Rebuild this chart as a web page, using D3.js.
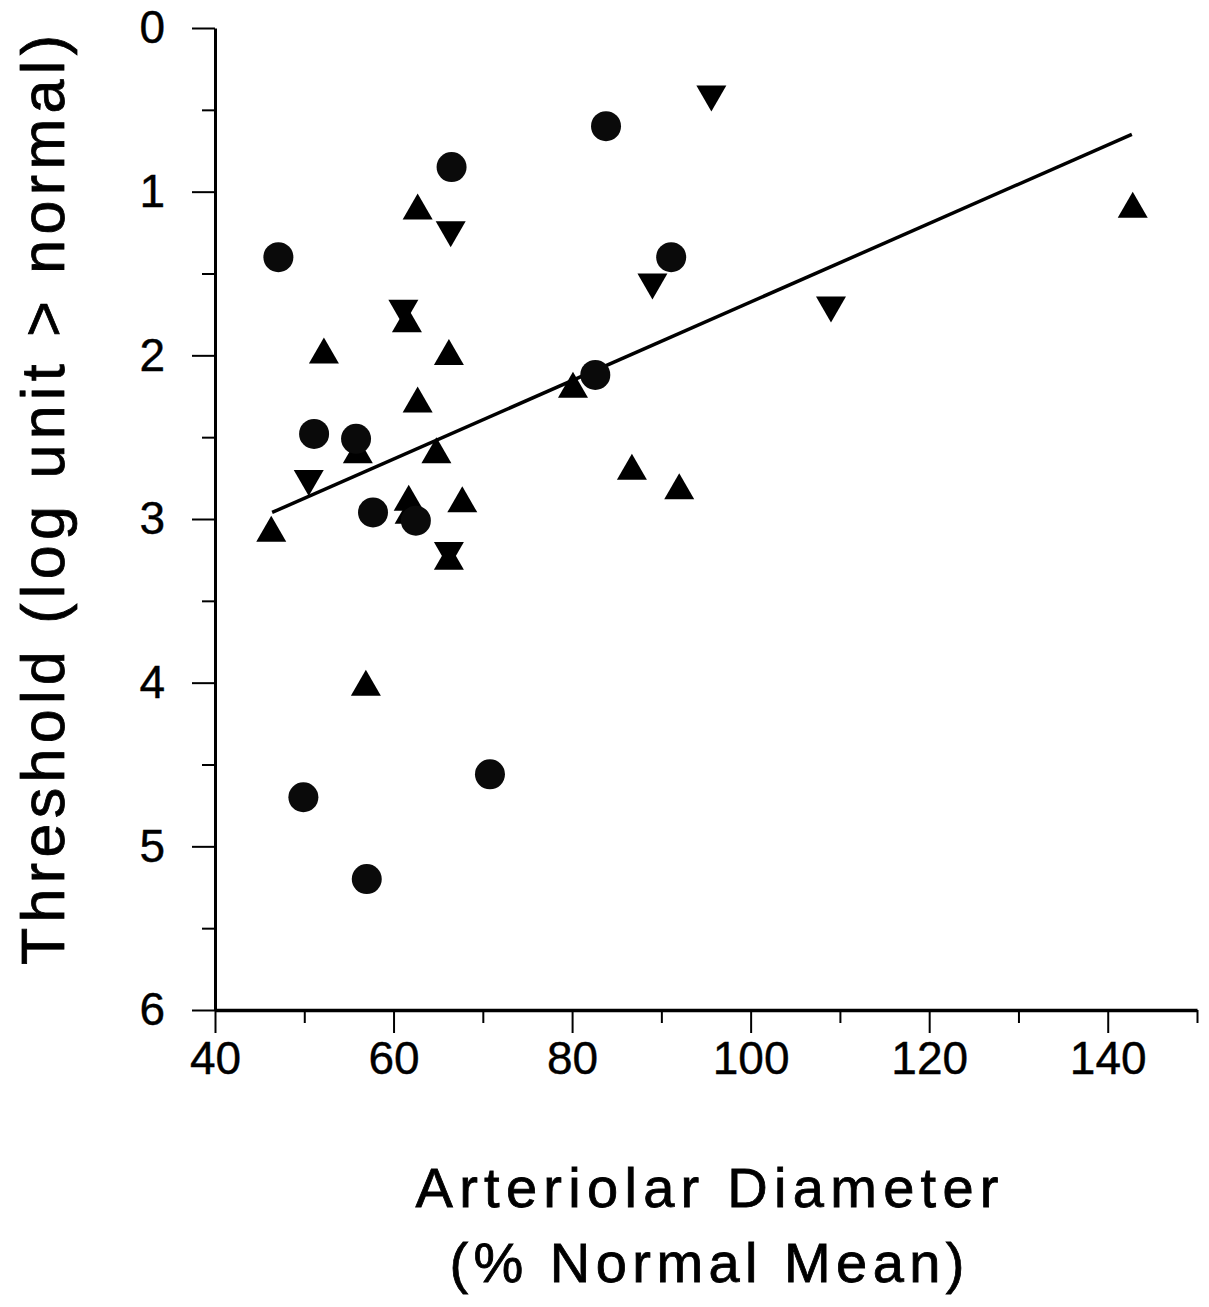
<!DOCTYPE html>
<html>
<head>
<meta charset="utf-8">
<script src="https://cdn.jsdelivr.net/npm/d3@7"></script>
<style>
  body { margin: 0; background: #fff; }
  text { font-family: "Liberation Sans", Arial, Helvetica, sans-serif; fill: #000; }
</style>
</head>
<body>
<svg id="chart" width="1209" height="1307"></svg>
<script>
// Filled circles
const circleX = [47.1, 66.5, 83.8, 91.1, 82.6, 51.1, 55.8, 57.7, 62.5, 70.8, 49.9, 57.0];
const circleY = [1.40, 0.85, 0.60, 1.40, 2.12, 2.48, 2.51, 2.96, 3.01, 4.56, 4.70, 5.20];

// Upward triangles
const upX = [62.7, 52.2, 66.2, 61.5, 80.1, 62.7, 56.0, 64.8, 46.3, 61.7, 61.8, 67.7, 86.7, 92.0, 66.2, 56.9, 142.8];
const upY = [1.09, 1.97, 1.98, 1.78, 2.18, 2.27, 2.58, 2.58, 3.06, 2.87, 2.95, 2.88, 2.68, 2.80, 3.23, 4.00, 1.08];

// Downward triangles
const downX = [95.6, 66.4, 89.0, 109.0, 61.1, 50.5, 66.2];
const downY = [0.43, 1.26, 1.58, 1.72, 1.74, 2.78, 3.22];

// Regression line end points
const fitX = [46.4, 142.7];
const fitY = [2.96, 0.65];

const xMajor = [40, 60, 80, 100, 120, 140];
const xMinor = [50, 70, 90, 110, 130, 150];
const yMajor = [0, 1, 2, 3, 4, 5, 6];
const yMinor = [0.5, 1.5, 2.5, 3.5, 4.5, 5.5];

let svg = d3.select("#chart");

let x = d3.scaleLinear().domain([40, 150]).range([215, 1197]);
let y = d3.scaleLinear().domain([0, 6]).range([28, 1010]);

// ejes: menores primero, luego mayores con etiquetas
svg.append("g")
    .attr("transform", "translate(0,1010)")
    .call(d3.axisBottom(x).tickValues(xMinor).tickSize(13).tickSizeOuter(0).tickFormat(""))
    .call(g => g.select(".domain").remove());

let xAxis = svg.append("g")
    .attr("transform", "translate(0,1010)")
    .call(d3.axisBottom(x).tickValues(xMajor).tickSize(23).tickSizeOuter(0).tickPadding(8).tickFormat(d3.format("d")));

svg.append("g")
    .attr("transform", "translate(215,0)")
    .call(d3.axisLeft(y).tickValues(yMinor).tickSize(13).tickSizeOuter(0).tickFormat(""))
    .call(g => g.select(".domain").remove());

let yAxis = svg.append("g")
    .attr("transform", "translate(215,0)")
    .call(d3.axisLeft(y).tickValues(yMajor).tickSize(23).tickSizeOuter(0).tickPadding(27).tickFormat(d3.format("d")));

svg.selectAll(".tick line").attr("stroke", "#000").attr("stroke-width", 2);
xAxis.select(".domain").attr("stroke", "#000").attr("stroke-width", 3.5);
yAxis.select(".domain").attr("stroke", "#000").attr("stroke-width", 3);
svg.selectAll(".tick text")
    .attr("font-size", 46)
    .attr("font-family", "'Liberation Sans', Arial, sans-serif")
    .attr("fill", "#000")
    .attr("stroke", "#000")
    .attr("stroke-width", 0.4);

// Títulos de ejes
svg.append("text")
    .attr("x", 707).attr("y", 1207)
    .attr("text-anchor", "middle")
    .attr("font-size", 56)
    .attr("stroke", "#000").attr("stroke-width", 0.8)
    .attr("textLength", 583).attr("lengthAdjust", "spacing")
    .text("Arteriolar Diameter");

svg.append("text")
    .attr("x", 707).attr("y", 1282)
    .attr("text-anchor", "middle")
    .attr("font-size", 56)
    .attr("stroke", "#000").attr("stroke-width", 0.8)
    .attr("textLength", 515).attr("lengthAdjust", "spacing")
    .text("(% Normal Mean)");

svg.append("text")
    .attr("transform", "translate(64,500) rotate(-90)")
    .attr("text-anchor", "middle")
    .attr("font-size", 61)
    .attr("stroke", "#000").attr("stroke-width", 0.8)
    .attr("textLength", 930).attr("lengthAdjust", "spacing")
    .text("Threshold (log unit > normal)");

// Recta de regresión
svg.append("line")
    .attr("x1", x(fitX[0])).attr("y1", y(fitY[0]))
    .attr("x2", x(fitX[1])).attr("y2", y(fitY[1]))
    .attr("stroke", "#000")
    .attr("stroke-width", 3.5);

// Marcadores
const triUp = "M0,-13L15,13L-15,13Z";
const triDown = "M0,13L15,-13L-15,-13Z";

svg.append("g").selectAll("path")
    .data(d3.zip(upX, upY))
    .enter().append("path")
    .attr("d", triUp)
    .attr("transform", d => "translate(" + x(d[0]) + "," + y(d[1]) + ")")
    .attr("fill", "#000");

svg.append("g").selectAll("path")
    .data(d3.zip(downX, downY))
    .enter().append("path")
    .attr("d", triDown)
    .attr("transform", d => "translate(" + x(d[0]) + "," + y(d[1]) + ")")
    .attr("fill", "#000");

svg.append("g").selectAll("circle")
    .data(d3.zip(circleX, circleY))
    .enter().append("circle")
    .attr("cx", d => x(d[0]))
    .attr("cy", d => y(d[1]))
    .attr("r", 15)
    .attr("fill", "#0a0a0a");
</script>
</body>
</html>
